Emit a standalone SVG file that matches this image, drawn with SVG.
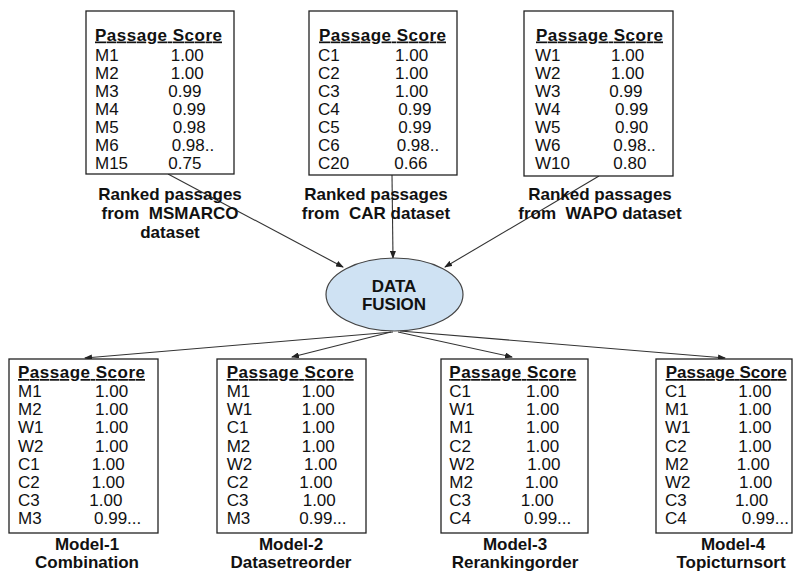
<svg xmlns="http://www.w3.org/2000/svg" width="793" height="572" viewBox="0 0 793 572">
<style>
.box{fill:#fff;stroke:#222;stroke-width:1.3}
.t{font-family:"Liberation Sans",Arial,sans-serif;font-size:17px;fill:#111}
.b{font-weight:bold}
.h{font-weight:bold;text-decoration:underline}
.c{text-anchor:middle}
.ln{stroke:#333;stroke-width:1.1;fill:none;marker-end:url(#ah)}
.ell{fill:#cfe2f3;stroke:#444;stroke-width:1.2}
</style>
<defs>
<marker id="ah" markerUnits="userSpaceOnUse" markerWidth="8" markerHeight="6" refX="7" refY="3" orient="auto">
<path d="M0,0 L8,3 L0,6 z" fill="#222"/>
</marker>
</defs>
<rect width="793" height="572" fill="#fff"/>
<g id="connectors">
<line class="ln" x1="168" y1="174" x2="343" y2="267"/>
<line class="ln" x1="392" y1="175" x2="393" y2="258"/>
<line class="ln" x1="599" y1="176" x2="445" y2="267"/>
<line class="ln" x1="393" y1="332" x2="85" y2="358"/>
<line class="ln" x1="391" y1="332" x2="292" y2="357"/>
<line class="ln" x1="398" y1="332" x2="512" y2="357"/>
<line class="ln" x1="400" y1="331" x2="725" y2="358"/>
</g>
<g id="msmarco">
<rect class="box" x="86" y="11" width="148" height="163"/>
<text class="t h" x="95" y="40.5" textLength="127">Passage Score</text>
<text class="t" x="95" y="61">M1</text><text class="t" x="170.7" y="61">1.00</text>
<text class="t" x="95" y="79">M2</text><text class="t" x="170.7" y="79">1.00</text>
<text class="t" x="95" y="97">M3</text><text class="t" x="168.3" y="97">0.99</text>
<text class="t" x="95" y="115">M4</text><text class="t" x="172.7" y="115">0.99</text>
<text class="t" x="95" y="133">M5</text><text class="t" x="172.7" y="133">0.98</text>
<text class="t" x="95" y="151">M6</text><text class="t" x="171.7" y="151">0.98..</text>
<text class="t" x="95" y="169">M15</text><text class="t" x="168.3" y="169">0.75</text>
<text class="t b c" x="170" y="200">Ranked passages</text>
<text class="t b c" x="170" y="219" xml:space="preserve">from  MSMARCO</text>
<text class="t b c" x="170" y="238">dataset</text>
</g>
<g id="car">
<rect class="box" x="309" y="11" width="148" height="164"/>
<text class="t h" x="319" y="40.5" textLength="127">Passage Score</text>
<text class="t" x="318" y="61">C1</text><text class="t" x="395" y="61">1.00</text>
<text class="t" x="318" y="79">C2</text><text class="t" x="395" y="79">1.00</text>
<text class="t" x="318" y="97">C3</text><text class="t" x="395" y="97">1.00</text>
<text class="t" x="318" y="115">C4</text><text class="t" x="398.3" y="115">0.99</text>
<text class="t" x="318" y="133">C5</text><text class="t" x="398.3" y="133">0.99</text>
<text class="t" x="318" y="151">C6</text><text class="t" x="396.7" y="151">0.98..</text>
<text class="t" x="318" y="169">C20</text><text class="t" x="394.3" y="169">0.66</text>
<text class="t b c" x="376" y="200">Ranked passages</text>
<text class="t b c" x="376" y="219" xml:space="preserve">from  CAR dataset</text>
</g>
<g id="wapo">
<rect class="box" x="524" y="11" width="149" height="165"/>
<text class="t h" x="536" y="40.5" textLength="127">Passage Score</text>
<text class="t" x="535" y="61">W1</text><text class="t" x="611" y="61">1.00</text>
<text class="t" x="535" y="79">W2</text><text class="t" x="611" y="79">1.00</text>
<text class="t" x="535" y="97">W3</text><text class="t" x="609.3" y="97">0.99</text>
<text class="t" x="535" y="115">W4</text><text class="t" x="615" y="115">0.99</text>
<text class="t" x="535" y="133">W5</text><text class="t" x="615" y="133">0.90</text>
<text class="t" x="535" y="151">W6</text><text class="t" x="613.3" y="151">0.98..</text>
<text class="t" x="535" y="169">W10</text><text class="t" x="613.3" y="169">0.80</text>
<text class="t b c" x="600" y="200">Ranked passages</text>
<text class="t b c" x="600" y="219" xml:space="preserve">from  WAPO dataset</text>
</g>
<g id="fusion">
<ellipse class="ell" cx="394.5" cy="294.5" rx="68.5" ry="36.5"/>
<text class="t b c" x="394" y="291.5">DATA</text>
<text class="t b c" x="394" y="310">FUSION</text>
</g>
<g id="model1">
<rect class="box" x="9" y="359" width="149" height="174"/>
<text class="t h" x="18" y="378" textLength="127">Passage Score</text>
<text class="t" x="18" y="397">M1</text><text class="t" x="95" y="397">1.00</text>
<text class="t" x="18" y="415.2">M2</text><text class="t" x="95" y="415.2">1.00</text>
<text class="t" x="18" y="433.4">W1</text><text class="t" x="95" y="433.4">1.00</text>
<text class="t" x="18" y="451.6">W2</text><text class="t" x="95" y="451.6">1.00</text>
<text class="t" x="18" y="469.8">C1</text><text class="t" x="91.7" y="469.8">1.00</text>
<text class="t" x="18" y="488">C2</text><text class="t" x="91.7" y="488">1.00</text>
<text class="t" x="18" y="506.2">C3</text><text class="t" x="89.3" y="506.2">1.00</text>
<text class="t" x="18" y="524.4">M3</text><text class="t" x="94" y="524.4">0.99...</text>
<text class="t b c" x="87" y="550">Model-1</text>
<text class="t b c" x="87" y="568">Combination</text>
</g>
<g id="model2">
<rect class="box" x="217" y="359" width="149" height="174"/>
<text class="t h" x="226.7" y="378" textLength="127">Passage Score</text>
<text class="t" x="226.7" y="397">M1</text><text class="t" x="301.7" y="397">1.00</text>
<text class="t" x="226.7" y="415.2">W1</text><text class="t" x="301.7" y="415.2">1.00</text>
<text class="t" x="226.7" y="433.4">C1</text><text class="t" x="301.7" y="433.4">1.00</text>
<text class="t" x="226.7" y="451.6">M2</text><text class="t" x="301.7" y="451.6">1.00</text>
<text class="t" x="226.7" y="469.8">W2</text><text class="t" x="304" y="469.8">1.00</text>
<text class="t" x="226.7" y="488">C2</text><text class="t" x="299.3" y="488">1.00</text>
<text class="t" x="226.7" y="506.2">C3</text><text class="t" x="302.7" y="506.2">1.00</text>
<text class="t" x="226.7" y="524.4">M3</text><text class="t" x="299.3" y="524.4">0.99...</text>
<text class="t b c" x="291" y="550">Model-2</text>
<text class="t b c" x="291" y="568">Datasetreorder</text>
</g>
<g id="model3">
<rect class="box" x="441" y="359" width="147" height="174"/>
<text class="t h" x="449.3" y="378" textLength="127">Passage Score</text>
<text class="t" x="449.3" y="397">C1</text><text class="t" x="526" y="397">1.00</text>
<text class="t" x="449.3" y="415.2">W1</text><text class="t" x="526" y="415.2">1.00</text>
<text class="t" x="449.3" y="433.4">M1</text><text class="t" x="526" y="433.4">1.00</text>
<text class="t" x="449.3" y="451.6">C2</text><text class="t" x="526" y="451.6">1.00</text>
<text class="t" x="449.3" y="469.8">W2</text><text class="t" x="527.3" y="469.8">1.00</text>
<text class="t" x="449.3" y="488">M2</text><text class="t" x="525" y="488">1.00</text>
<text class="t" x="449.3" y="506.2">C3</text><text class="t" x="520.7" y="506.2">1.00</text>
<text class="t" x="449.3" y="524.4">C4</text><text class="t" x="524" y="524.4">0.99...</text>
<text class="t b c" x="515" y="550">Model-3</text>
<text class="t b c" x="515" y="568">Rerankingorder</text>
</g>
<g id="model4">
<rect class="box" x="656" y="359" width="136" height="174"/>
<text class="t h" x="665.7" y="378" textLength="121">Passage Score</text>
<text class="t" x="665" y="397">C1</text><text class="t" x="738.3" y="397">1.00</text>
<text class="t" x="665" y="415.2">M1</text><text class="t" x="738.3" y="415.2">1.00</text>
<text class="t" x="665" y="433.4">W1</text><text class="t" x="738.3" y="433.4">1.00</text>
<text class="t" x="665" y="451.6">C2</text><text class="t" x="738.3" y="451.6">1.00</text>
<text class="t" x="665" y="469.8">M2</text><text class="t" x="736.7" y="469.8">1.00</text>
<text class="t" x="665" y="488">W2</text><text class="t" x="739" y="488">1.00</text>
<text class="t" x="665" y="506.2">C3</text><text class="t" x="735" y="506.2">1.00</text>
<text class="t" x="665" y="524.4">C4</text><text class="t" x="741.7" y="524.4">0.99...</text>
<text class="t b c" x="733" y="550">Model-4</text>
<text class="t b c" x="731" y="568">Topicturnsort</text>
</g>
</svg>
